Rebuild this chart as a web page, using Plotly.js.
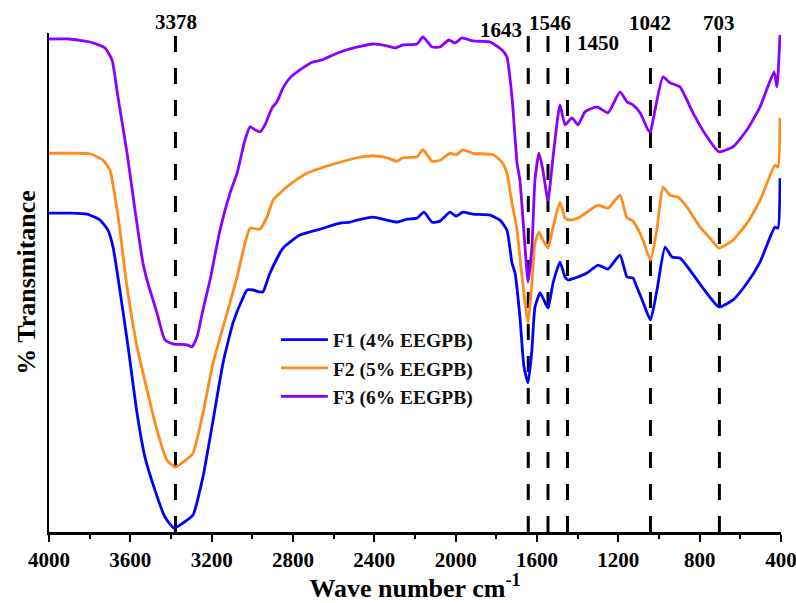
<!DOCTYPE html>
<html>
<head>
<meta charset="utf-8">
<script src="https://cdn.plot.ly/plotly-3.0.1.min.js"></script>
<style>html,body{margin:0;padding:0;background:#fff;}#chart{width:796px;height:603px;}</style>
</head>
<body>
<div id="chart"></div>
<script>
// Wave numbers (cm-1) and % transmittance (arbitrary)
const f1Wave = [4000,3900,3813,3749,3710,3685,3661,3611,3567,3528,3479,3430,3385,3341,3292,3243,3193,3144,3095,3051,3026,2997,2962,2948,2913,2849,2766,2667,2569,2520,2485,2407,2338,2289,2239,2190,2156,2116,2077,2028,1998,1964,1915,1831,1782,1748,1723,1708,1684,1664,1644,1625,1610,1585,1571,1546,1521,1487,1462,1447,1413,1354,1300,1251,1192,1157,1128,1109,1079,1042,1010,970,936,897,848,784,705,636,567,503,430,415,405];
const f1Trans = [63.9,63.9,63.7,62.5,60.5,57.1,51.1,37.1,23.8,15.0,8.4,3.0,0.8,1.8,3.4,11.0,22.4,33.9,41.9,46.5,48.5,48.5,48.1,48.1,51.9,56.9,59.5,60.7,61.9,62.1,62.5,63.1,62.5,62.1,62.7,62.9,64.1,62.1,62.3,64.1,63.3,64.1,63.7,63.5,62.5,60.5,53.9,51.9,43.1,33.1,29.9,36.5,45.1,47.9,46.9,44.9,49.9,54.1,51.1,50.5,50.9,51.9,53.5,52.7,55.5,51.1,50.9,49.1,46.1,42.5,48.5,57.1,55.1,54.9,52.5,48.9,45.1,46.5,49.9,54.1,61.1,60.9,70.9];

const f2Wave = [4000,3900,3798,3734,3700,3675,3651,3621,3567,3518,3469,3420,3380,3341,3292,3243,3193,3134,3075,3036,3011,2977,2962,2928,2898,2849,2800,2731,2652,2569,2485,2407,2338,2289,2259,2190,2161,2116,2077,2028,1998,1964,1915,1816,1772,1748,1723,1698,1684,1659,1644,1625,1610,1590,1571,1546,1521,1487,1462,1438,1398,1354,1300,1251,1192,1157,1133,1109,1079,1042,1010,980,946,907,862,798,749,705,636,567,503,430,415,405];
const f2Trans = [75.9,75.9,75.8,74.5,72.5,67.1,60.5,50.5,37.1,28.5,20.4,14.4,13.0,14.0,15.8,23.8,33.9,42.5,51.1,57.9,60.9,60.7,60.7,63.1,66.5,68.5,70.1,71.9,73.1,74.1,75.0,75.4,75.0,74.3,75.0,75.2,76.6,74.3,74.5,75.9,75.6,76.6,75.9,75.6,74.1,71.9,65.9,60.5,55.1,45.9,41.9,49.9,57.9,60.1,58.5,56.9,61.1,66.1,62.9,62.5,62.9,64.1,65.5,64.9,67.5,62.9,62.5,61.1,58.5,54.5,60.7,69.1,67.5,67.1,65.1,61.1,58.9,56.9,58.5,61.9,66.5,73.5,73.1,83.0];

const f3Wave = [4000,3900,3798,3725,3690,3661,3616,3577,3538,3518,3469,3430,3390,3321,3297,3272,3243,3208,3159,3110,3075,3036,3011,2987,2962,2938,2903,2879,2849,2815,2766,2702,2657,2603,2520,2407,2338,2298,2259,2190,2161,2116,2077,2033,2003,1969,1915,1831,1772,1748,1723,1698,1684,1659,1644,1625,1610,1590,1571,1546,1521,1487,1462,1428,1398,1364,1305,1251,1192,1157,1128,1093,1054,1042,1029,980,946,897,833,764,705,636,567,503,434,420,405];
const f3Trans = [98.8,98.8,98.2,97.0,94.6,87.2,75.9,64.5,53.9,50.5,43.9,38.5,37.7,37.5,37.1,39.1,44.5,50.5,60.5,67.9,71.9,78.6,81.2,80.6,80.2,81.6,85.0,86.2,89.0,91.0,92.6,94.2,94.6,95.6,96.8,97.8,97.4,97.0,97.6,97.8,99.2,97.2,97.2,98.6,98.0,99.0,98.4,98.2,96.6,95.2,87.2,73.9,70.5,57.1,50.1,57.1,70.5,75.9,72.5,66.5,75.2,85.6,81.6,83.0,81.6,84.2,85.2,84.0,88.2,86.2,85.6,84.0,80.6,80.2,82.6,91.2,90.0,89.2,84.0,79.2,76.2,77.2,80.6,85.2,92.2,89.2,99.6];

const seriesNames = ['F1 (4% EEGPB)','F2 (5% EEGPB)','F3 (6% EEGPB)'];
const seriesColors = ['#0000FF','#FF8C1A','#8B00FF'];
const peakWaves = [3378,1643,1546,1450,1042,703];
const peakLabels = ['3378','1643','1546','1450','1042','703'];
const xTickVals = [4000,3600,3200,2800,2400,2000,1600,1200,800,400];

const serif = 'Liberation Serif, Times New Roman, serif';

const waves = [f1Wave,f2Wave,f3Wave];
const trans = [f1Trans,f2Trans,f3Trans];
const traces = waves.map((w,i)=>({
  x: w, y: trans[i], type:'scatter', mode:'lines', name: seriesNames[i],
  line:{color: seriesColors[i], width:2.8, shape:'spline', smoothing:0.5}
}));

const shapes = peakWaves.map(w=>({
  type:'line', xref:'x', yref:'paper', x0:w, x1:w, y0:0, y1:0.996,
  line:{color:'#000', width:3, dash:'16px,16px'}, layer:'below'
}));

// label placement tweaks [xanchor, xshift, yPaper]
const labelPos = [['center',1,1.022],['right',-4,1.006],['center',2,1.021],['left',7,0.980],['center',0,1.021],['center',0,1.021]];
const annotations = peakWaves.map((w,i)=>({
  x:w, xref:'x', y:labelPos[i][2], yref:'paper', text:peakLabels[i], showarrow:false,
  xanchor:labelPos[i][0], yanchor:'middle', xshift:labelPos[i][1],
  font:{family:serif, size:21, color:'#000', weight:'bold'}
}));

const layout = {
  width:796, height:603,
  margin:{l:49, r:15, t:33, b:71},
  paper_bgcolor:'#fff', plot_bgcolor:'#fff',
  showlegend:true,
  legend:{x:0.31, y:0.424, xanchor:'left', yanchor:'top', bgcolor:'rgba(0,0,0,0)',
    font:{family:serif, size:19.5, color:'#111', weight:'bold'}, itemwidth:47, tracegroupgap:0},
  xaxis:{range:[4000,400], tickvals:xTickVals, ticktext:xTickVals.map(String),
    showgrid:false, zeroline:false, showline:true, linecolor:'#000', linewidth:2.5,
    ticks:'outside', ticklen:7, tickwidth:2, tickcolor:'#000', ticklabeloverflow:'allow',
    minor:{dtick:200, ticks:'outside', ticklen:4, tickwidth:2, tickcolor:'#000', showgrid:false},
    tickfont:{family:serif, size:21, color:'#000', weight:'bold'},
    title:{text:'Wave number cm<sup>-1</sup>', font:{family:serif, size:26, color:'#000', weight:'bold'}, standoff:15}},
  yaxis:{range:[0,100], showgrid:false, zeroline:false, showline:true, linecolor:'#000', linewidth:2.5,
    ticks:'', showticklabels:false,
    title:{text:'% Transmitance', font:{family:serif, size:26, color:'#000', weight:'bold'}, standoff:4}},
  shapes: shapes,
  annotations: annotations
};

Plotly.newPlot('chart', traces, layout, {displayModeBar:false, staticPlot:true});
</script>
</body>
</html>
